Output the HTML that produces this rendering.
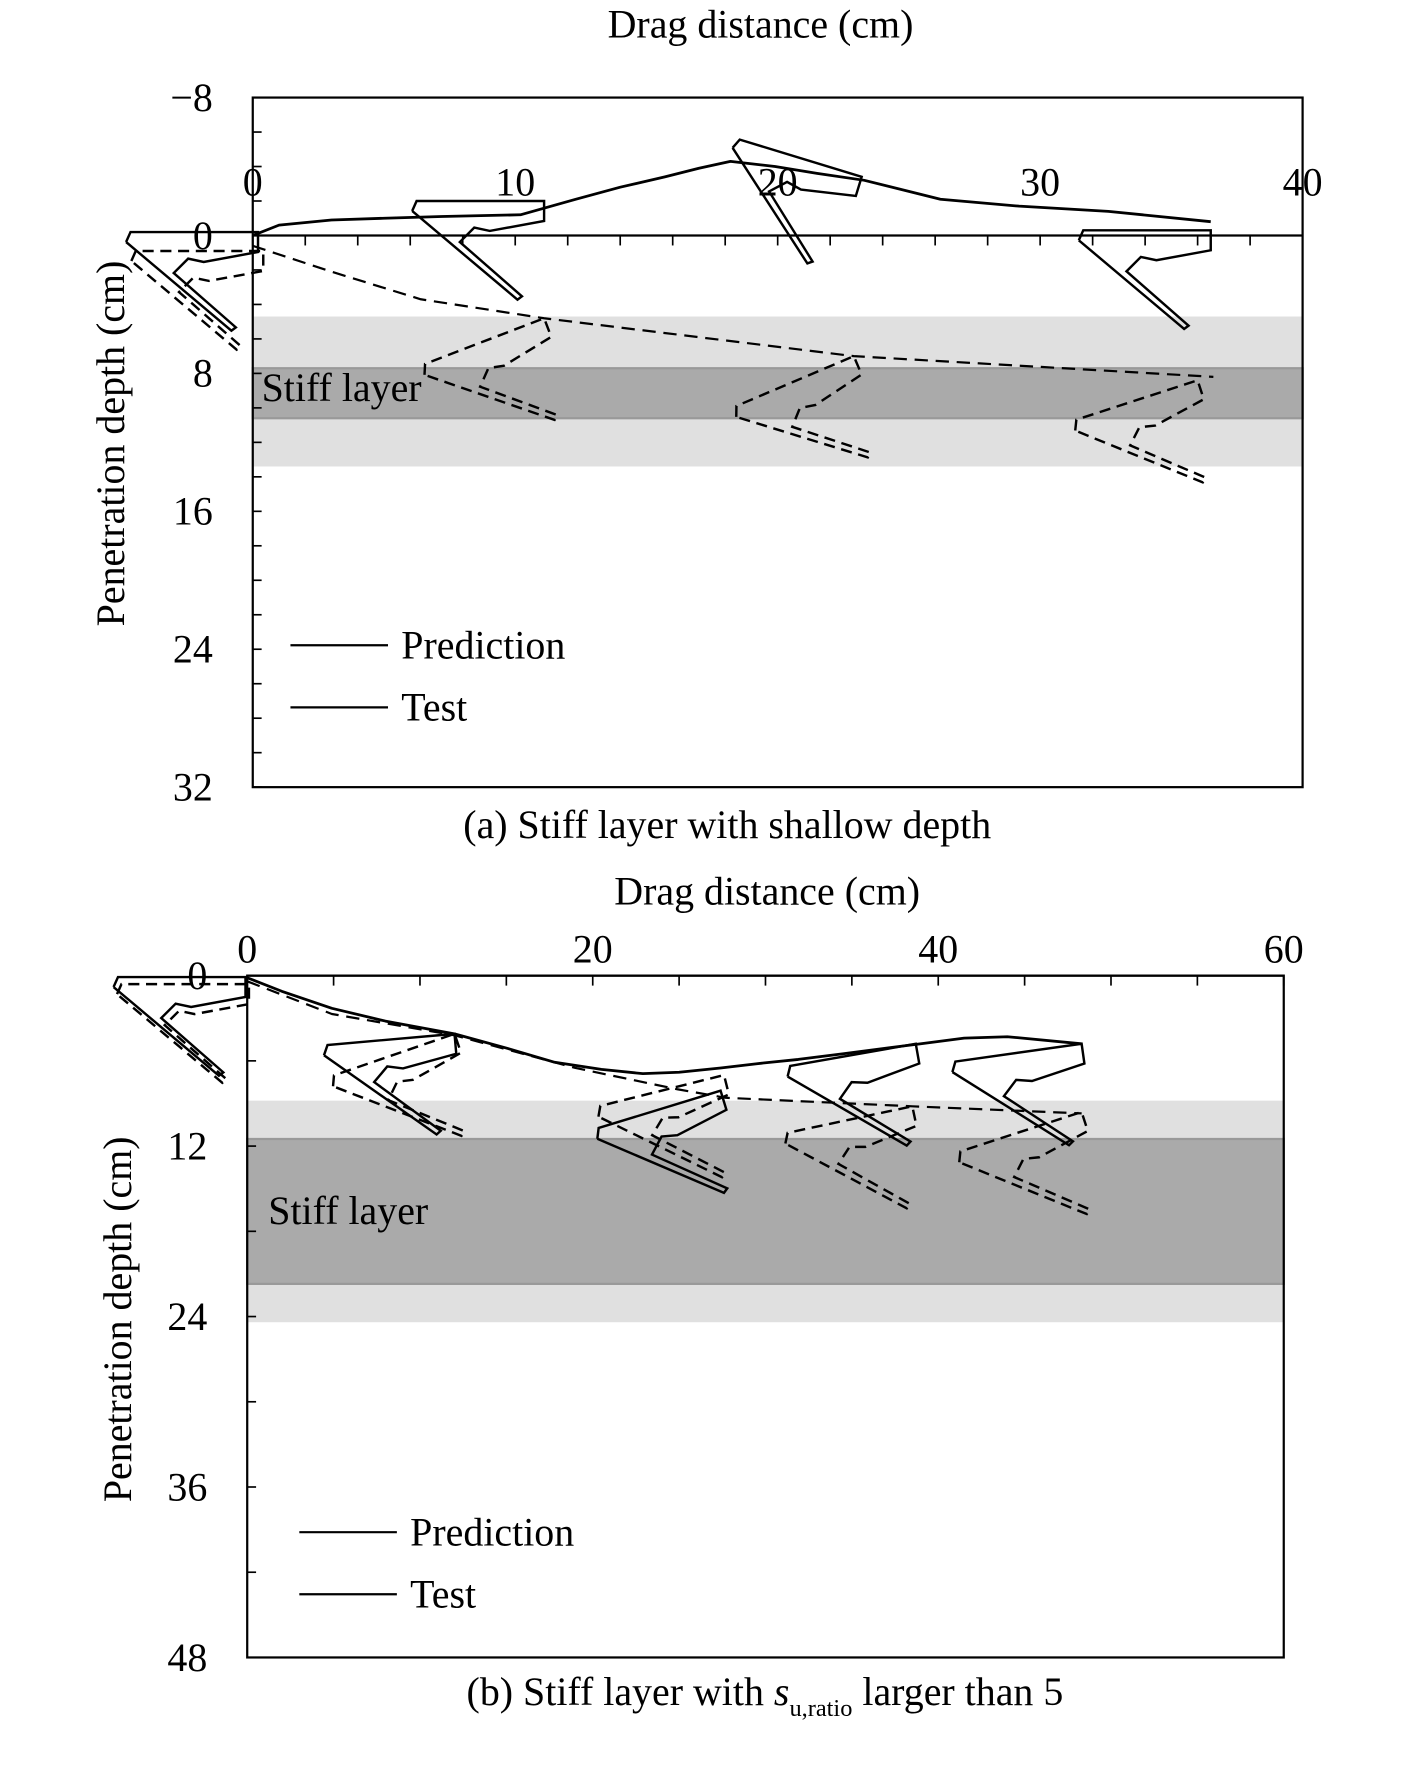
<!DOCTYPE html>
<html><head><meta charset="utf-8"><style>
html,body{margin:0;padding:0;background:#fff}
svg{display:block}
text{font-family:"Liberation Serif",serif;fill:#000}
</style></head><body>
<svg id="fig" width="1419" height="1765" viewBox="0 0 1280 1592" preserveAspectRatio="none" xmlns="http://www.w3.org/2000/svg"></svg>
<script>
// ---------- Panel (a) data ----------
const aXTicks = [0, 10, 20, 30, 40];
const aYTicks = [-8, 0, 8, 16, 24, 32];
const aTestX = [0, 1, 3, 5, 7.2, 10.2, 12.3, 14, 15.7, 17, 18.2, 19.9, 21.5, 23.3, 26.2, 29.2, 32.6, 36.5];
const aTestY = [0, -0.6, -0.9, -1.0, -1.1, -1.2, -2.1, -2.8, -3.4, -3.9, -4.3, -4.0, -3.6, -3.2, -2.1, -1.7, -1.4, -0.8];
const aPredX = [0, 3, 6.4, 11.1, 22.9, 36.6];
const aPredY = [0.6, 2.1, 3.7, 4.8, 7.0, 8.2];
const aTestAnchorX = [0.2, 11.1, 23.2, 36.5];
const aTestAnchorY = [-0.2, -2.0, -3.4, -0.3];
const aTestAnchorAng = [0, 0, 17, 0];
const aPredAnchorX = [0.4, 11.1, 22.9, 36.0];
const aPredAnchorY = [0.9, 4.8, 7.0, 8.4];
const aPredAnchorAng = [0, -21, -23, -18];
const aBandLight = [4.7, 13.4];
const aBandDark = [7.7, 10.6];
// ---------- Panel (b) data ----------
const bXTicks = [0, 20, 40, 60];
const bYTicks = [0, 12, 24, 36, 48];
const bTestX = [0, 2, 4.9, 8, 12, 15, 17.8, 20.5, 22.9, 25, 27.4, 29.5, 31.9, 34.5, 37, 39, 41.5, 44, 48.3];
const bTestY = [0.15, 1.1, 2.3, 3.2, 4.1, 5.1, 6.1, 6.6, 6.9, 6.8, 6.5, 6.2, 5.9, 5.5, 5.1, 4.8, 4.4, 4.3, 4.8];
const bPredX = [0, 4.9, 12, 19, 24.9, 27.7, 38.5, 48.3];
const bPredY = [0.4, 2.7, 4.2, 6.5, 8.0, 8.6, 9.2, 9.7];
const bTestAnchorX = [-0.1, 12.0, 27.4, 38.7, 48.3];
const bTestAnchorY = [0.1, 4.1, 8.1, 4.8, 4.8];
const bTestAnchorAng = [0, -5, -17, -10, -8];
const bPredAnchorX = [0.1, 12.0, 27.6, 38.5, 48.3];
const bPredAnchorY = [0.6, 4.1, 7.0, 9.2, 9.6];
const bPredAnchorAng = [0, -19, -14, -12, -18];
const bBandLight = [8.8, 24.4];
const bBandDark = [11.5, 21.7];

// anchor outline template (pixels relative to fluke tip)
const anchorShape = [[-119,9],[-115,0],[0,0],[0,18],[-49,27],[-63,24],[-76,37],[-20,86],[-24,89],[-119,9]];

const NS = "http://www.w3.org/2000/svg";
const svg = document.getElementById('fig');
function mk(tag, attrs, parent) {
  const e = document.createElementNS(NS, tag);
  for (const k in attrs) e.setAttribute(k, attrs[k]);
  (parent || svg).appendChild(e);
  return e;
}
function txt(s, x, y, size, anchor, parent) {
  const t = mk('text', {x: x, y: y, 'font-size': size, 'text-anchor': anchor || 'start'}, parent);
  t.textContent = s;
  return t;
}

function panel(cfg) {
  const g = mk('g', {});
  
  
  const sx = v => cfg.L + (v - cfg.xmin) / (cfg.xmax - cfg.xmin) * (cfg.R - cfg.L);
  const sy = v => cfg.T + (v - cfg.ymin) / (cfg.ymax - cfg.ymin) * (cfg.B - cfg.T);
  // bands
  const bl = mk('rect', {x: cfg.L, y: sy(cfg.light[0]), width: cfg.R - cfg.L, height: sy(cfg.light[1]) - sy(cfg.light[0]), fill: '#e0e0e0'}, g);
  
  
  const bd = mk('rect', {x: cfg.L, y: sy(cfg.dark[0]), width: cfg.R - cfg.L, height: sy(cfg.dark[1]) - sy(cfg.dark[0]), fill: '#aaaaaa', stroke: '#999', 'stroke-width': 2}, g);
  
  
  const sl = txt('Stiff layer', cfg.stiffX, sy(cfg.stiffY), 36, 'start', g);
  
  
  // frame
  const fr = mk('rect', {x: cfg.L, y: cfg.T, width: cfg.R - cfg.L, height: cfg.B - cfg.T, fill: 'none', stroke: '#000', 'stroke-width': 2}, g);
  
  
  // zero line & x ticks
  const y0 = sy(0);
  const zl = mk('line', {x1: cfg.L, y1: y0, x2: cfg.R, y2: y0, stroke: '#000', 'stroke-width': 2}, g);
  
  
  for (let v = cfg.xmin; v <= cfg.xmax + 1e-6; v += cfg.xminor) {
    const tk = mk('line', {x1: sx(v), y1: y0, x2: sx(v), y2: y0 + 9, stroke: '#000', 'stroke-width': 1.5}, g);
    
    
  }
  cfg.xticks.forEach(v => {
    const t = txt(String(v), sx(v), y0 - cfg.xlabOff, 36, 'middle', g);
    
    
  });
  for (let v = cfg.ymin; v <= cfg.ymax + 1e-6; v += cfg.yminor) {
    const tk = mk('line', {x1: cfg.L, y1: sy(v), x2: cfg.L + 8, y2: sy(v), stroke: '#000', 'stroke-width': 1.5}, g);
    
    
  }
  cfg.yticks.forEach(v => {
    const t = txt(v < 0 ? '\u2212' + Math.abs(v) : String(v), cfg.L - 36, sy(v) + 12, 36, 'end', g);
    
    
  });
  // titles
  const xt = txt('Drag distance (cm)', cfg.xtitleX, cfg.xtitleY, 36, 'middle', g);
  
  
  const yt = txt('Penetration depth (cm)', 0, 0, 36, 'middle', g);
  yt.setAttribute('transform', 'translate(' + cfg.ytitleX + ',' + cfg.ytitleY + ') rotate(-90)');
  
  
  // trajectories
  const line = (xs, ys, dash, name) => {
    const p = mk('polyline', {points: xs.map((x, i) => sx(x) + ',' + sy(ys[i])).join(' '), fill: 'none', stroke: '#000', 'stroke-width': dash ? 2 : 2.5, 'stroke-dasharray': dash ? '12 7' : 'none', 'stroke-linejoin': 'round'}, g);
    
    
  };
  line(cfg.predX, cfg.predY, true, 'prediction-trajectory');
  line(cfg.testX, cfg.testY, false, 'test-trajectory');
  const anchor = (x, y, ang, dash, name) => {
    const px = sx(x), py = sy(y), r = ang * Math.PI / 180, c = Math.cos(r), s = Math.sin(r);
    const pts = anchorShape.map(([u, v]) => (px + u * c - v * s) + ',' + (py + u * s + v * c)).join(' ');
    const p = mk('polyline', {points: pts, fill: 'none', stroke: '#000', 'stroke-width': 2.2, 'stroke-dasharray': dash ? '10 6' : 'none', 'stroke-linejoin': 'miter'}, g);
    
    
  };
  cfg.paX.forEach((x, i) => anchor(x, cfg.paY[i], cfg.paA[i], true, 'predicted-anchor'));
  cfg.taX.forEach((x, i) => anchor(x, cfg.taY[i], cfg.taA[i], false, 'test-anchor'));
  // legend
  [['Prediction', cfg.legY], ['Test', cfg.legY + 56]].forEach(([lab, ly]) => {
    const lg = mk('g', {}, g);
    
    
    mk('line', {x1: cfg.legX, y1: ly, x2: cfg.legX + 88, y2: ly, stroke: '#000', 'stroke-width': 2}, lg);
    txt(lab, cfg.legX + 100, ly + 12, 36, 'start', lg);
  });
  const cap = txt('', cfg.capX, cfg.capY, 36, 'middle', g);
  
  
  cfg.caption(cap);
}

panel({name: 'panel-a', L: 228, R: 1175, T: 88, B: 710, xmin: 0, xmax: 40, ymin: -8, ymax: 32,
  xminor: 2, yminor: 2, xticks: aXTicks, yticks: aYTicks, xlabOff: 36,
  light: aBandLight, dark: aBandDark, stiffX: 236, stiffY: 9.6,
  xtitleX: 686, xtitleY: 34, ytitleX: 112, ytitleY: 400,
  testX: aTestX, testY: aTestY, predX: aPredX, predY: aPredY,
  taX: aTestAnchorX, taY: aTestAnchorY, taA: aTestAnchorAng,
  paX: aPredAnchorX, paY: aPredAnchorY, paA: aPredAnchorAng,
  legX: 262, legY: 582, capX: 656, capY: 756,
  caption: t => { t.textContent = '(a) Stiff layer with shallow depth'; }
});
panel({name: 'panel-b', L: 223, R: 1158, T: 880, B: 1495, xmin: 0, xmax: 60, ymin: 0, ymax: 48,
  xminor: 5, yminor: 6, xticks: bXTicks, yticks: bYTicks, xlabOff: 12,
  light: bBandLight, dark: bBandDark, stiffX: 242, stiffY: 17.5,
  xtitleX: 692, xtitleY: 816, ytitleX: 118, ytitleY: 1190,
  testX: bTestX, testY: bTestY, predX: bPredX, predY: bPredY,
  taX: bTestAnchorX, taY: bTestAnchorY, taA: bTestAnchorAng,
  paX: bPredAnchorX, paY: bPredAnchorY, paA: bPredAnchorAng,
  legX: 270, legY: 1382, capX: 690, capY: 1538,
  caption: t => {
    const a = document.createElementNS(NS, 'tspan'); a.textContent = '(b) Stiff layer with '; t.appendChild(a);
    const b = document.createElementNS(NS, 'tspan'); b.setAttribute('font-style', 'italic'); b.textContent = 's'; t.appendChild(b);
    const c = document.createElementNS(NS, 'tspan'); c.setAttribute('font-size', '22'); c.setAttribute('dy', '10'); c.textContent = 'u,ratio'; t.appendChild(c);
    const d = document.createElementNS(NS, 'tspan'); d.setAttribute('dy', '-10'); d.textContent = ' larger than 5'; t.appendChild(d);
  }
});
</script>
</body></html>
